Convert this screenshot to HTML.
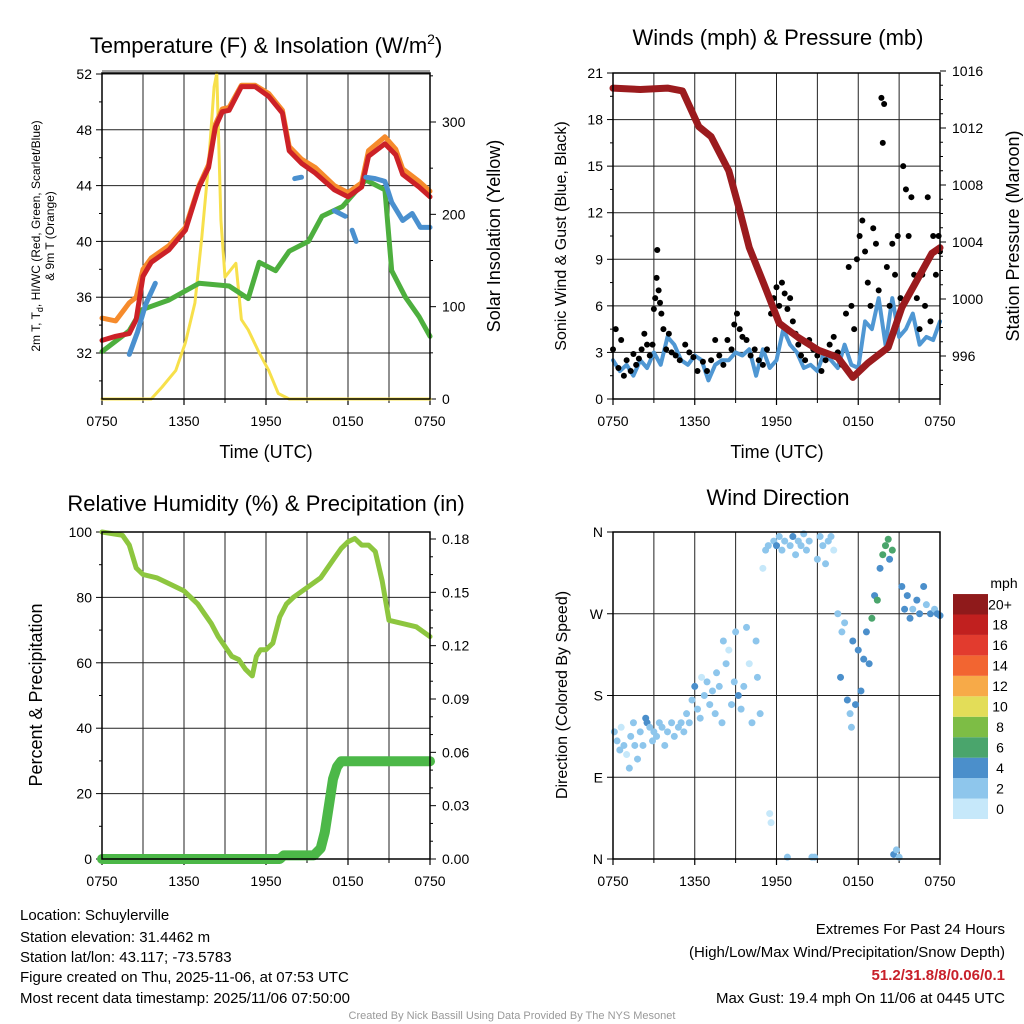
<!DOCTYPE html>
<html><head><meta charset="utf-8"><style>
html,body{margin:0;padding:0;background:#fff;}
svg{display:block;font-family:"Liberation Sans",Arial,sans-serif;}
</style></head><body>
<svg id="c" width="1024" height="1024" viewBox="0 0 1024 1024" xmlns="http://www.w3.org/2000/svg">
<text x="266" y="53" font-size="22" text-anchor="middle">Temperature (F) &amp; Insolation (W/m<tspan dy="-9" font-size="14">2</tspan><tspan dy="9">)</tspan></text>
<text x="778" y="45" font-size="22" text-anchor="middle">Winds (mph) &amp; Pressure (mb)</text>
<text x="266" y="511" font-size="22" text-anchor="middle">Relative Humidity (%) &amp; Precipitation (in)</text>
<text x="778" y="505" font-size="22" text-anchor="middle">Wind Direction</text>
<text x="266" y="458" font-size="18" text-anchor="middle">Time (UTC)</text>
<text x="777" y="458" font-size="18" text-anchor="middle">Time (UTC)</text>
<text transform="translate(40,236) rotate(-90)" font-size="12" text-anchor="middle">2m T, T<tspan dy="3" font-size="9">d</tspan><tspan dy="-3">, HI/WC (Red, Green, Scarlet/Blue)</tspan></text>
<text transform="translate(54,236) rotate(-90)" font-size="12" text-anchor="middle">&amp; 9m T (Orange)</text>
<text transform="translate(500,236) rotate(-90)" font-size="18" text-anchor="middle">Solar Insolation (Yellow)</text>
<text transform="translate(566,236) rotate(-90)" font-size="16" text-anchor="middle">Sonic Wind &amp; Gust (Blue, Black)</text>
<text transform="translate(1019,236) rotate(-90)" font-size="18" text-anchor="middle">Station Pressure (Maroon)</text>
<text transform="translate(42,695) rotate(-90)" font-size="18" text-anchor="middle">Percent &amp; Precipitation</text>
<text transform="translate(567,695) rotate(-90)" font-size="16" text-anchor="middle">Direction (Colored By Speed)</text>
<g font-size="15">
<text x="20" y="920">Location: Schuylerville</text>
<text x="20" y="942">Station elevation: 31.4462 m</text>
<text x="20" y="962">Station lat/lon: 43.117; -73.5783</text>
<text x="20" y="982">Figure created on Thu, 2025-11-06, at 07:53 UTC</text>
<text x="20" y="1003">Most recent data timestamp: 2025/11/06 07:50:00</text>
</g>
<g font-size="15" text-anchor="end">
<text x="1005" y="934">Extremes For Past 24 Hours</text>
<text x="1005" y="957">(High/Low/Max Wind/Precipitation/Snow Depth)</text>
<text x="1005" y="980" fill="#c8202a" font-weight="bold">51.2/31.8/8/0.06/0.1</text>
<text x="1005" y="1003">Max Gust: 19.4 mph On 11/06 at 0445 UTC</text>
</g>
<text x="512" y="1019" font-size="11" fill="#999" text-anchor="middle">Created By Nick Bassill Using Data Provided By The NYS Mesonet</text>
</svg>
<script>
// ---- data ----
const redT = [0,1,2,2.5,3,3.6,4.9,6.1,7.1,7.8,8.3,8.8,9.3,10.2,11.2,12.2,13.2,13.7,14.6,15.6,17,18,19,19.5,20.7,21.5,22,23.2,24];
const temp2m = [32.9,33.2,33.4,34.4,37.5,38.5,39.4,40.8,43.9,45.3,48.2,49.3,49.4,51.1,51.1,50.4,49.2,46.5,45.6,44.9,43.7,43.2,43.9,46.1,47,46.2,44.8,43.9,43.2];
const oranT = [0,1,2,2.5,3,3.6,4.9,6.1,7.1,7.8,8.3,8.8,9.3,10.2,11.2,12.2,13.2,13.7,14.6,15.6,17,18,19,19.5,20.7,21.5,22,23.2,24];
const temp9m = [34.5,34.3,35.6,36,38,38.8,39.7,41,44,45.5,48.4,49.5,49.6,51.2,51.2,50.6,49.4,46.8,45.9,45.3,44,43.5,44.2,46.5,47.5,46.6,45.2,44.3,43.6];
const dewT = [0,2,2.9,4.9,7.1,9.3,10.7,11.5,12.7,13.7,15.1,16.1,17.6,19.3,20.7,21.2,22.2,23.2,24];
const dewpt = [32.1,33.6,35.1,35.8,37,36.8,35.9,38.5,37.9,39.3,40,41.8,42.5,44.4,43.7,37.9,36,34.6,33.2];
const hiwcT = [2,2.6,3.2,3.9,4,14.1,14.6,14.7,17,17.8,17.9,18.3,18.6,18.7,19.3,20,20.7,21.2,22,22.7,23.3,24];
const hiwc = [31.9,33.5,35.5,37,null,44.5,44.6,null,42.2,41.8,null,40.8,40,null,44.6,44.5,44.3,42.8,41.5,42,41,41];
const solarT = [0,3.6,4.4,5.4,6.1,6.8,7.3,7.8,8.2,8.4,8.7,9,9.8,10.2,10.7,11.5,12.2,12.9,13.7,24];
const solarV = [0,0,13,31,61,104,175,255,338,353,194,132,147,86,75,50,31,6,0,0];
const windT = [0,0.5,1,1.5,2,2.5,3,3.5,4,4.5,5,5.5,6,6.5,7,7.5,8,8.5,9,9.5,10,10.5,11,11.5,12,12.5,13,13.5,14,14.5,15,15.5,16,16.5,17,17.5,18,18.5,19,19.5,20,20.5,21,21.5,22,22.5,23,23.5,24];
const windV = [2.5,1.8,2.2,1.5,2.5,2,3,2.2,4,3.5,2.5,2.2,2.8,2.5,1.2,2.2,2.5,2.5,3,2.8,3.2,1.5,3.2,2,2.5,4.5,3.5,3,2,2.2,1.8,3,2.5,2,3.5,2.2,2,5,4.5,6.5,3.5,6.5,4,4.5,5.5,3.5,4,3.8,5];
const gustT = [0,0.2,0.4,0.6,0.8,1,1.3,1.5,1.7,1.9,2.1,2.3,2.5,2.7,2.9,3,3.1,3.2,3.25,3.35,3.45,3.55,3.7,3.9,4.1,4.3,4.6,4.9,5.3,5.6,5.9,6.2,6.6,6.9,7.2,7.5,7.8,8.1,8.4,8.7,8.9,9.1,9.3,9.5,9.8,10.1,10.4,10.7,11,11.3,11.6,11.8,12,12.2,12.4,12.6,12.8,13,13.2,13.4,13.6,13.8,14.1,14.4,14.7,15,15.3,15.6,15.9,16.2,16.5,16.8,17.1,17.3,17.5,17.7,17.9,18.1,18.3,18.5,18.7,18.9,19.1,19.3,19.5,19.7,19.8,19.9,20.1,20.3,20.5,20.7,20.9,21.1,21.3,21.5,21.7,21.9,22.1,22.3,22.5,22.7,22.9,23.1,23.3,23.5,23.7,23.9,24];
const gustV = [3.2,4.5,2,3.8,1.5,2.5,1.8,2.9,2.2,2.6,3.2,4.2,3.5,2.8,3.5,5.8,6.5,7.8,9.6,7,6.2,5.5,4.5,3.2,4.2,3,2.8,2.5,3.5,3,2.7,1.8,2.4,1.8,2.5,3.8,2.8,2.2,3.8,3.2,4.8,5.5,4.5,4,3.8,2.8,3.2,2.5,2.2,3.2,5.5,6.5,7.2,6,7.5,6.8,5.8,6.5,5,4.2,3.5,2.8,2.5,3.8,3.2,2.8,1.8,2.5,3.5,4,3,2.2,5.5,8.5,6,4.5,9,10.5,11.5,9.5,7.5,6,11,10,7,19.4,16.5,19,8.5,6,10,8,10.5,6.5,15,13.5,10.5,13,8,6.5,4.5,8,6,13,5,10.5,8,10.5,9.5];
const presT = [0,2,4,5.1,6.3,7.2,8.5,9.3,10,11.1,12.2,13.6,15.1,16.5,17.6,18.7,20.2,21.2,22.3,23.4,24];
const presV = [1014.8,1014.7,1014.8,1014.6,1012.1,1011.4,1009,1006.2,1003.6,1001,998.3,997.3,996.4,995.9,994.5,995.5,996.6,999.4,1001.3,1003.2,1003.6];
const rhT = [0,1.5,2,2.5,3,4,5,6,7,7.5,8,8.5,9,9.5,10,10.5,11,11.3,11.6,12,12.5,13,13.5,14,15,16,17,17.5,18,18.5,19,19.5,20,20.5,21,22,23,24];
const rhV = [100,99,96,89,87,86,84,82,78,75,72,68,65,62,61,58,56,62,64,64,66,74,78,80,83,86,92,95,97,98,96,96,94,85,73,72,71,68];
const precipT = [0,13,13.3,15.5,16,16.3,16.6,16.9,17.2,17.5,24];
const precipV = [0,0,0.002,0.002,0.006,0.015,0.03,0.045,0.052,0.055,0.055];
const dirT = [0.1,0.3,0.5,0.6,0.8,1.0,1.2,1.3,1.5,1.6,1.8,2.0,2.2,2.4,2.5,2.7,2.9,3.0,3.2,3.4,3.6,3.8,4.0,4.3,4.5,4.8,5.0,5.2,5.4,5.6,5.8,6.0,6.2,6.4,6.5,6.7,6.9,7.1,7.3,7.5,7.6,7.8,8.0,8.1,8.3,8.5,8.7,8.9,9.0,9.2,9.4,9.6,9.8,10.0,10.2,10.5,10.6,10.8,11.0,11.2,11.4,11.5,11.6,11.8,12.0,12.2,12.4,12.6,12.8,13.0,13.2,13.4,13.6,13.8,14.0,14.2,14.4,14.6,14.8,15.0,15.2,15.4,15.6,15.8,16.0,16.2,16.5,16.7,16.8,17.0,17.2,17.4,17.5,17.6,17.8,18.0,18.2,18.4,18.6,18.8,19.0,19.2,19.4,19.6,19.8,20.0,20.2,20.3,20.5,20.6,20.8,21.0,21.2,21.4,21.6,21.8,22.0,22.3,22.5,22.8,23.0,23.3,23.6,23.8,24];
const dirDeg = [140,130,120,145,125,115,100,135,150,125,110,140,125,155,150,145,130,140,135,150,145,125,140,150,135,145,150,140,160,150,175,190,165,155,200,180,195,170,185,160,205,190,150,240,215,230,170,195,250,180,165,190,255,215,150,240,200,160,320,340,345,50,40,350,345,355,340,350,2,345,355,335,350,345,358,340,350,2,2,330,355,345,325,350,355,340,270,200,250,260,175,160,145,240,170,230,185,220,250,215,265,290,285,320,335,345,352,330,340,5,10,2,300,275,290,265,275,285,270,300,280,270,275,270,268];
const dirSpd = [2,3,2,1,2,1,3,2,2,3,2,3,2,4,4,3,2,3,3,3,2,3,2,3,2,3,2,3,2,3,3,4,2,3,1,3,3,2,3,3,2,3,2,2,2,1,3,3,2,4,3,2,2,1,3,2,2,2,1,3,2,1,1,3,4,3,2,3,3,3,4,3,2,2,3,2,2,2,3,2,3,2,2,2,3,1,3,4,3,3,4,3,3,4,5,4,5,4,5,4,6,5,6,4,6,7,6,4,6,4,3,3,5,4,5,4,3,4,4,4,3,4,3,4,4];
const speedBins = ["0","2","4","6","8","10","12","14","16","18","20+"];
const speedColors = ["#c6e8fa","#8ec6ec","#4b8fcb","#4aa56c","#7dbd45","#e3dd58","#f7aa48","#f26531","#e23b2e","#c1201f","#8f1a1b"];
const timeTicks = ["0750","1350","1950","0150","0750"];

// ---- helpers ----
const svg = document.getElementById('c');
const NS = 'http://www.w3.org/2000/svg';
function mk(tag, attrs, parent){const e=document.createElementNS(NS,tag);for(const k in attrs)e.setAttribute(k,attrs[k]);(parent||svg).appendChild(e);return e;}
function txt(x,y,s,size,anchor,parent){const e=mk('text',{x:x,y:y,'font-size':size,'text-anchor':anchor},parent);e.textContent=s;return e;}
function linear(d0,d1,r0,r1){return v=>r0+(v-d0)*(r1-r0)/(d1-d0);}
function pathOf(xs,ys,fx,fy){let d='',pen=false;for(let i=0;i<xs.length;i++){if(ys[i]===null||ys[i]===undefined){pen=false;continue;}d+=(pen?'L':'M')+fx(xs[i]).toFixed(1)+','+fy(ys[i]).toFixed(1);pen=true;}return d;}

function panel(L,R,T,B,name){
  const g=mk('g',{});
  
  
  const fx=linear(0,24,L,R);
  for(let h=3;h<24;h+=3){mk('line',{x1:fx(h),x2:fx(h),y1:T,y2:B,stroke:'#222','stroke-width':1},g);}
  timeTicks.forEach((s,i)=>{const x=fx(i*6);mk('line',{x1:x,x2:x,y1:B,y2:B+6,stroke:'#000','stroke-width':1.2},g);const t=txt(x,B+27,s,14,'middle',g);});
  for(let h=3;h<24;h+=6){mk('line',{x1:fx(h),x2:fx(h),y1:B,y2:B+4,stroke:'#000'},g);}
  return {g,fx};
}
function frame(g,L,R,T,B){mk('rect',{x:L,y:T,width:R-L,height:B-T,fill:'none',stroke:'#000','stroke-width':1.5},g);}
function leftAxis(g,L,R,fy,vals,labels,minor,grid){vals.forEach((v,i)=>{const y=fy(v);if(grid)mk('line',{x1:L,x2:R,y1:y,y2:y,stroke:'#222','stroke-width':1},g);mk('line',{x1:L-6,x2:L,y1:y,y2:y,stroke:'#000'},g);const t=txt(L-10,y+5,labels[i],14,'end',g);});minor.forEach(v=>mk('line',{x1:L-3,x2:L,y1:fy(v),y2:fy(v),stroke:'#000'},g));}
function rightAxis(g,R,fy,vals,labels,minor){vals.forEach((v,i)=>{const y=fy(v);mk('line',{x1:R,x2:R+6,y1:y,y2:y,stroke:'#000'},g);const t=txt(R+12,y+5,labels[i],14,'start',g);});minor.forEach(v=>mk('line',{x1:R,x2:R+3,y1:fy(v),y2:fy(v),stroke:'#000'},g));}
function line(g,xs,ys,fx,fy,color,w,name){const p=mk('path',{d:pathOf(xs,ys,fx,fy),fill:'none',stroke:color,'stroke-width':w,'stroke-linejoin':'round','stroke-linecap':'round'},g);return p;}

// ---- Panel 1: temperature ----
{const L=102,R=430,T=73,B=399;const P=panel(L,R,T,B,'temperature-panel');const g=P.g;
 const fy=linear(32,52,353,74);const fs=linear(0,300,399,122);
 leftAxis(g,L,R,fy,[32,36,40,44,48,52],['32','36','40','44','48','52'],[30,34,38,42,46,50],true);
 mk('line',{x1:L,x2:R,y1:fy(52)-3,y2:fy(52)-3,stroke:'#444','stroke-width':1},g);
 rightAxis(g,R,fs,[0,100,200,300],['0','100','200','300'],[50,150,250,350]);
 line(g,solarT,solarV,P.fx,fs,'#f7e04b',3,'solar-insolation-line');
 line(g,dewT,dewpt,P.fx,fy,'#4daf3e',5,'dewpoint-line');
 line(g,oranT,temp9m,P.fx,fy,'#f68b2c',5,'temp-9m-line');
 line(g,redT,temp2m,P.fx,fy,'#cc2127',5,'temp-2m-line');
 line(g,hiwcT,hiwc,P.fx,fy,'#4a90cf',5,'heat-index-windchill-line');
 frame(g,L,R,T,B);}

// ---- Panel 2: winds ----
{const L=613,R=940,T=73,B=399;const P=panel(L,R,T,B,'winds-panel');const g=P.g;
 const fy=linear(0,21,399,73);const fp=linear(996,1016,356,71);
 leftAxis(g,L,R,fy,[0,3,6,9,12,15,18,21],['0','3','6','9','12','15','18','21'],[1.5,4.5,7.5,10.5,13.5,16.5,19.5],true);
 rightAxis(g,R,fp,[996,1000,1004,1008,1012,1016],['996','1000','1004','1008','1012','1016'],[994,995,997,998,999,1001,1002,1003,1005,1006,1007,1009,1010,1011,1013,1014,1015]);
 line(g,windT,windV,P.fx,fy,'#4f97d3',4,'sonic-wind-line');
 for(let i=0;i<gustT.length;i++){const c=mk('circle',{cx:P.fx(gustT[i]),cy:fy(gustV[i]),r:3,fill:'#000'},g);
  
  }
 line(g,presT,presV,P.fx,fp,'#9b1b1e',7,'pressure-line');
 frame(g,L,R,T,B);}

// ---- Panel 3: RH & precip ----
{const L=102,R=430,T=532,B=859;const P=panel(L,R,T,B,'humidity-panel');const g=P.g;
 const fy=linear(0,100,859,532);const fpr=linear(0,0.18,859,539);
 leftAxis(g,L,R,fy,[0,20,40,60,80,100],['0','20','40','60','80','100'],[10,30,50,70,90],true);
 rightAxis(g,R,fpr,[0,0.03,0.06,0.09,0.12,0.15,0.18],['0.00','0.03','0.06','0.09','0.12','0.15','0.18'],[0.01,0.02,0.04,0.05,0.07,0.08,0.1,0.11,0.13,0.14,0.16,0.17]);
 line(g,rhT,rhV,P.fx,fy,'#8dc63f',5,'relative-humidity-line');
 line(g,precipT,precipV,P.fx,fpr,'#4cb848',10,'precipitation-line');
 frame(g,L,R,T,B);}

// ---- Panel 4: wind direction ----
{const L=613,R=940,T=532,B=859;const P=panel(L,R,T,B,'wind-direction-panel');const g=P.g;
 const fy=linear(0,360,859,532);
 leftAxis(g,L,R,fy,[0,90,180,270,360],['N','E','S','W','N'],[],true);
 for(let i=0;i<dirT.length;i++){const bin=Math.min(10,Math.floor(dirSpd[i]/2));
  const c=mk('circle',{cx:P.fx(dirT[i]),cy:fy(dirDeg[i]),r:3.5,fill:speedColors[bin]},g);
  
  }
 frame(g,L,R,T,B);
 const lg=mk('g',{});
 
 
 const bh=20.45;const y0=819;
 txt(1004,588,'mph',14,'middle',lg);
 speedBins.forEach((s,i)=>{const y=y0-(i+1)*bh;mk('rect',{x:953,y:y,width:35,height:bh,fill:speedColors[i]},lg);txt(1000,y+bh/2+5,s,14,'middle',lg);});
}
</script>
</body></html>
